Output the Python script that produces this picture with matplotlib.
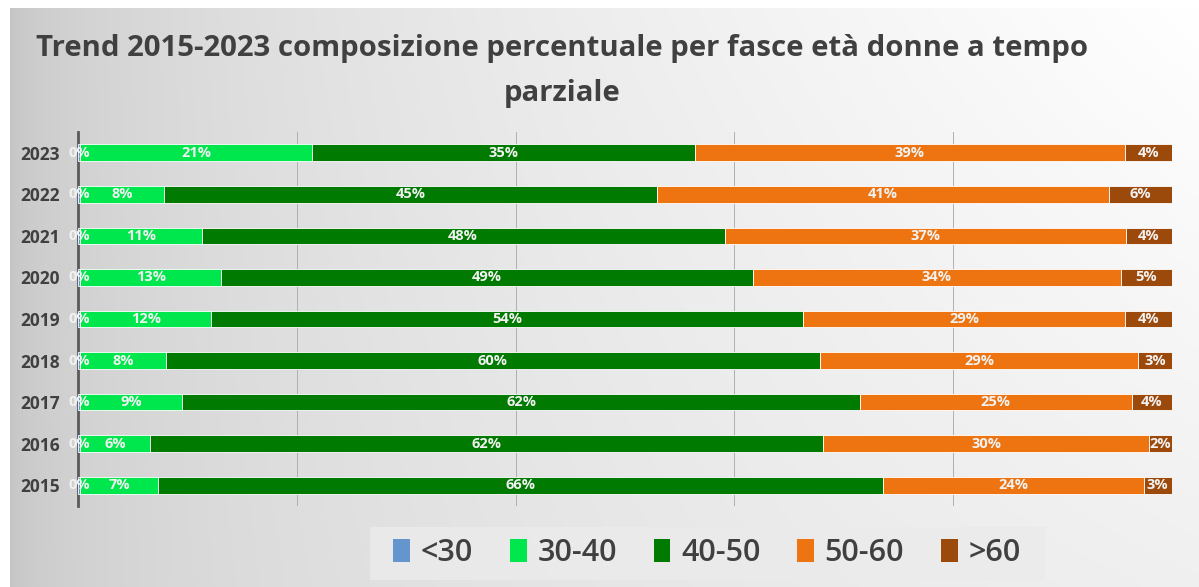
import numpy as np
import matplotlib
matplotlib.use("Agg")
import matplotlib.pyplot as plt
from matplotlib.patches import Patch

years = ["2015", "2016", "2017", "2018", "2019", "2020", "2021", "2022", "2023"]
series = ["<30", "30-40", "40-50", "50-60", ">60"]
v_lt30 = [0.2, 0.2, 0.2, 0.2, 0.2, 0.2, 0.2, 0.2, 0.2]
v_30_40 = [7.1, 6.4, 9.3, 7.8, 12.0, 12.9, 11.1, 7.7, 21.2]
v_40_50 = [66.3, 61.5, 62.0, 59.8, 54.1, 48.6, 47.8, 45.0, 35.0]
v_50_60 = [23.8, 29.8, 24.8, 29.1, 29.4, 33.6, 36.7, 41.3, 39.3]
v_gt60 = [2.6, 2.1, 3.7, 3.1, 4.3, 4.7, 4.2, 5.8, 4.3]
colors = ["#6495CD", "#00E64D", "#007A00", "#ED7410", "#9C4A0C"]
title = "Trend 2015-2023 composizione percentuale per fasce età donne a tempo\nparziale"

W, H = 1199, 587
fig = plt.figure(figsize=(W / 100, H / 100), dpi=100)
fig.patch.set_facecolor("white")

# chart-area background gradient
bg = fig.add_axes([10 / W, 0, 1 - 10 / W, 1 - 8 / H], zorder=-10)
xx, yy = np.meshgrid(np.linspace(0, 1, 400), np.linspace(0, 1, 200))
light = 0.77 + 0.23 * np.sqrt(xx) - 0.06 * yy * xx
light = np.clip(light, 0, 1)
rgb = np.dstack([light, light, light])
bg.imshow(rgb, aspect="auto", extent=[0, 1, 1, 0], interpolation="bilinear")
bg.axis("off")

# legend background box
fig.patches.append(plt.Rectangle((370 / W, 1 - 580 / H), 675 / W, 53 / H,
                                 transform=fig.transFigure, facecolor="#ebebeb",
                                 edgecolor="none", zorder=-5, alpha=0.85))

ax = fig.add_axes([78 / W, 1 - 506 / H, 1094 / W, 374 / H])
ax.set_facecolor("none")

data = [v_lt30, v_30_40, v_40_50, v_50_60, v_gt60]
y = np.arange(len(years))
left = np.zeros(len(years))
for name, vals, col in zip(series, data, colors):
    vals = np.array(vals) / 100.0
    ax.barh(y, vals, left=left, height=0.4, color=col, edgecolor="white",
            linewidth=0.6, label=name, zorder=3)
    for yi, (l, v) in enumerate(zip(left, vals)):
        ax.text(l + v / 2, yi, f"{v * 100:.0f}%", ha="center", va="center",
                fontsize=10.5, fontweight="bold", color="#f2f2f2",
                family="Open Sans", zorder=4)
    left += vals

ax.set_xlim(0, 1)
ax.set_ylim(-0.5, len(years) - 0.5)
ax.set_xticks([0.2, 0.4, 0.6, 0.8, 1.0])
ax.set_xticklabels([])
ax.tick_params(axis="x", length=0)
ax.grid(axis="x", color="#b0b0b0", linewidth=0.7, zorder=0)
ax.set_yticks(y)
ax.set_yticklabels(years, fontsize=12.5, fontweight="bold", color="#404040",
                   family="Open Sans")
ax.tick_params(axis="y", length=0, pad=13)
for s in ["top", "right", "bottom"]:
    ax.spines[s].set_visible(False)
ax.spines["left"].set_color("#595959")
ax.spines["left"].set_linewidth(2)

fig.text(562 / W, 1 - 71 / H, title, ha="center", va="center", fontsize=21.2,
         fontweight="bold", color="#404040", family="Open Sans", linespacing=1.7)

handles = [Patch(facecolor=c, edgecolor="none") for c in colors]
fig.legend(handles, series, loc="center", bbox_to_anchor=(707 / W, 1 - 553 / H),
           ncol=5, frameon=False, handlelength=0.55, handleheight=0.8,
           handletextpad=0.35, columnspacing=1.2,
           prop={"family": "Open Sans", "size": 22, "weight": "semibold"},
           labelcolor="#404040")

fig.savefig("out.png", dpi=100)
